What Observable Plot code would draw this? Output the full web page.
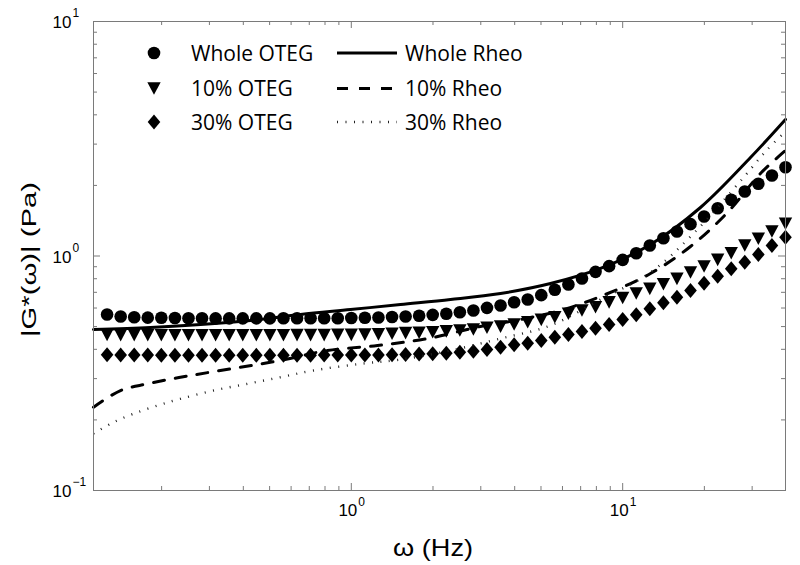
<!DOCTYPE html>
<html>
<head>
<meta charset="utf-8">
<script src="https://cdn.jsdelivr.net/npm/d3@7"></script>
<script src="https://cdn.jsdelivr.net/npm/@observablehq/plot@0.6"></script>
<style>
  html, body { margin: 0; padding: 0; background: #fff; }
  #chart { width: 800px; height: 565px; }
</style>
</head>
<body>
<div id="chart"></div>
<script>
// ---- data ----
const freq = [0.1259,0.1413,0.1585,0.1778,0.1995,0.2239,0.2512,0.2818,0.3162,0.3548,0.3981,0.4467,0.5012,0.5623,0.6310,0.7079,0.7943,0.8913,1.000,1.122,1.259,1.413,1.585,1.778,1.995,2.239,2.512,2.818,3.162,3.548,3.981,4.467,5.012,5.623,6.310,7.079,7.943,8.913,10.00,11.22,12.59,14.13,15.85,17.78,19.95,22.39,25.12,28.18,31.62,35.48,39.81];
const wholeOTEG = [0.563,0.552,0.548,0.546,0.545,0.544,0.543,0.543,0.542,0.542,0.542,0.542,0.542,0.543,0.543,0.543,0.543,0.543,0.544,0.545,0.547,0.549,0.552,0.556,0.561,0.567,0.576,0.586,0.601,0.615,0.635,0.652,0.681,0.718,0.756,0.802,0.856,0.905,0.963,1.028,1.109,1.191,1.272,1.367,1.474,1.599,1.736,1.884,2.032,2.204,2.391];
const oteg10 = [0.461,0.460,0.460,0.459,0.459,0.459,0.459,0.459,0.459,0.459,0.459,0.459,0.459,0.459,0.460,0.460,0.460,0.461,0.461,0.462,0.463,0.466,0.469,0.471,0.473,0.477,0.481,0.486,0.494,0.500,0.510,0.522,0.534,0.548,0.567,0.586,0.605,0.634,0.662,0.692,0.724,0.758,0.799,0.850,0.902,0.963,1.028,1.109,1.184,1.272,1.372];
const oteg30 = [0.379,0.378,0.378,0.378,0.377,0.377,0.377,0.377,0.377,0.377,0.377,0.377,0.377,0.377,0.377,0.377,0.378,0.378,0.378,0.378,0.378,0.379,0.380,0.382,0.383,0.385,0.389,0.392,0.399,0.408,0.418,0.425,0.436,0.450,0.463,0.477,0.492,0.510,0.536,0.561,0.596,0.632,0.667,0.713,0.766,0.820,0.882,0.941,1.015,1.109,1.203];

const wholeRheoFreq = [0.1122,0.1820,0.2782,0.4251,0.6499,0.9933,1.518,2.320,3.546,5.420,8.283,12.66,19.35,29.58,39.80];
const wholeRheo     = [0.486,0.496,0.510,0.531,0.563,0.591,0.621,0.652,0.692,0.763,0.885,1.119,1.610,2.630,3.821];
const rheo10Freq = [0.1122,0.1411,0.1774,0.2556,0.3808,0.5627,0.8172,1.249,1.909,2.993,4.202,5.900,8.283,12.66,17.78,24.33,32.19,39.80];
const rheo10     = [0.2265,0.2669,0.2851,0.3093,0.3337,0.3608,0.3954,0.4152,0.4446,0.5005,0.5361,0.5857,0.6720,0.8422,1.098,1.533,2.248,2.818];
const rheo30Freq = [0.1122,0.1330,0.1576,0.1931,0.2348,0.3107,0.4144,0.5483,0.7255,1.081,1.518,2.320,3.546,5.420,8.283,12.66,18.24,27.87,33.87,39.80];
const rheo30     = [0.175,0.1955,0.2124,0.2304,0.2461,0.2669,0.2851,0.3042,0.3249,0.3469,0.3618,0.3954,0.4446,0.5053,0.6523,0.8504,1.247,2.161,2.818,3.396];

const xMajorTicks = [1, 10];
const xMinorTicks = [0.2,0.3,0.4,0.5,0.6,0.7,0.8,0.9,2,3,4,5,6,7,8,9,20,30];
const yMajorTicks = [0.1, 1, 10];
const yMinorTicks = [0.2,0.3,0.4,0.5,0.6,0.7,0.8,0.9,2,3,4,5,6,7,8,9];
const tickExponents = {"0.1": "\u22121", "1": "0", "10": "1"};

const markerLabels = ["Whole OTEG", "10% OTEG", "30% OTEG"];
const lineLabels = ["Whole Rheo", "10% Rheo", "30% Rheo"];
const xLabel = "\u03C9 (Hz)";
const yLabel = "|G*(\u03C9)| (Pa)";

// ---- custom marker symbols ----
const R0 = 6.3;
const circleSym = { draw(ctx, size) { const r = Math.sqrt(size / Math.PI); ctx.moveTo(r, 0); ctx.arc(0, 0, r, 0, 2 * Math.PI); } };
const triDownSym = { draw(ctx, size) { const r = Math.sqrt(size / Math.PI); const w = r * 1.06, h = r * 1.0;
  ctx.moveTo(-w, -h); ctx.lineTo(w, -h); ctx.lineTo(0, h); ctx.closePath(); } };
const diamondSym = { draw(ctx, size) { const r = Math.sqrt(size / Math.PI); const w = r * 1.0, h = r * 1.19;
  ctx.moveTo(0, -h); ctx.lineTo(w, 0); ctx.lineTo(0, h); ctx.lineTo(-w, 0); ctx.closePath(); } };

const pts = (xs, ys) => xs.map((x, i) => ({x, y: ys[i]}));

const M = {top: 21, right: 15, bottom: 75, left: 93};
const W = 800, H = 565;
const PW = W - M.left - M.right, PH = H - M.top - M.bottom;
const axisGray = "#7a7a7a";
const tickFont = "Liberation Sans, Arial, Helvetica, sans-serif";

const plot = Plot.plot({
  width: W, height: H,
  marginTop: M.top, marginRight: M.right, marginBottom: M.bottom, marginLeft: M.left,
  x: {type: "log", domain: [0.1122, 39.81], axis: null},
  y: {type: "log", domain: [0.1, 10], axis: null},
  style: {fontFamily: tickFont, background: "white", color: "black", overflow: "visible"},
  marks: [
    Plot.dot(pts(freq, wholeOTEG), {x: "x", y: "y", r: R0, symbol: circleSym, fill: "black", stroke: "none"}),
    Plot.dot(pts(freq, oteg10), {x: "x", y: "y", r: R0, symbol: triDownSym, fill: "black", stroke: "none"}),
    Plot.dot(pts(freq, oteg30), {x: "x", y: "y", r: R0, symbol: diamondSym, fill: "black", stroke: "none"}),
    Plot.line(pts(wholeRheoFreq, wholeRheo), {x: "x", y: "y", stroke: "black", strokeWidth: 3, curve: "catmull-rom"}),
    Plot.line(pts(rheo10Freq, rheo10), {x: "x", y: "y", stroke: "black", strokeWidth: 3, strokeDasharray: "11,11", curve: "catmull-rom"}),
    Plot.line(pts(rheo30Freq, rheo30), {x: "x", y: "y", stroke: "#222", strokeWidth: 2.4, strokeDasharray: "1,7.5", strokeLinecap: "butt", curve: "catmull-rom"}),
    // inward ticks, all four sides
    Plot.ruleX(xMajorTicks, {x: d => d, insetTop: PH - 7, stroke: axisGray}),
    Plot.ruleX(xMajorTicks, {x: d => d, insetBottom: PH - 7, stroke: axisGray}),
    Plot.ruleX(xMinorTicks, {x: d => d, insetTop: PH - 4, stroke: axisGray}),
    Plot.ruleX(xMinorTicks, {x: d => d, insetBottom: PH - 4, stroke: axisGray}),
    Plot.ruleY(yMajorTicks, {y: d => d, insetRight: PW - 7, stroke: axisGray}),
    Plot.ruleY(yMajorTicks, {y: d => d, insetLeft: PW - 7, stroke: axisGray}),
    Plot.ruleY(yMinorTicks, {y: d => d, insetRight: PW - 4, stroke: axisGray}),
    Plot.ruleY(yMinorTicks, {y: d => d, insetLeft: PW - 4, stroke: axisGray}),
    Plot.frame({stroke: axisGray, strokeWidth: 1}),
    // tick labels: base "10" and exponent
    Plot.text(xMajorTicks, {x: d => d, frameAnchor: "bottom", text: () => "10", textAnchor: "end", dx: 6, dy: 25, fontSize: 17, fill: "black"}),
    Plot.text(xMajorTicks, {x: d => d, frameAnchor: "bottom", text: d => tickExponents[String(d)], textAnchor: "start", dx: 7, dy: 15, fontSize: 12, fill: "black"}),
    Plot.text(yMajorTicks, {y: d => d, frameAnchor: "left", text: () => "10", textAnchor: "start", dx: -41, dy: 1.5, fontSize: 17, fill: "black"}),
    Plot.text(yMajorTicks, {y: d => d, frameAnchor: "left", text: d => tickExponents[String(d)], textAnchor: "start", dx: -21, dy: -8, fontSize: 12, fill: "black"})
  ]
});

document.getElementById("chart").appendChild(plot);

// ---- axis labels and legend (drawn into the same SVG) ----
const svg = d3.select(plot);
svg.append("text")
  .attr("x", 433).attr("y", 556)
  .attr("text-anchor", "middle")
  .attr("font-family", tickFont).attr("font-size", 24)
  .attr("textLength", 80).attr("lengthAdjust", "spacingAndGlyphs")
  .attr("fill", "black")
  .text(xLabel);
svg.append("text")
  .attr("transform", "translate(36,259.5) rotate(-90)")
  .attr("text-anchor", "middle")
  .attr("font-family", tickFont).attr("font-size", 21)
  .attr("textLength", 155).attr("lengthAdjust", "spacingAndGlyphs")
  .attr("fill", "black")
  .text(yLabel);

const legendRows = [53, 88.5, 122];
const legendSyms = [circleSym, triDownSym, diamondSym];
const legendStyles = [
  {w: 3, dash: null, color: "black"},
  {w: 3, dash: "11,11", color: "black"},
  {w: 2.4, dash: "1,7.5", color: "#222"}
];
const lg = svg.append("g")
  .attr("font-family", "'Open Sans', 'Noto Sans', sans-serif")
  .attr("font-size", 21)
  .attr("text-anchor", "start")
  .attr("fill", "black");
legendRows.forEach((ry, i) => {
  lg.append("path")
    .attr("transform", `translate(154,${ry})`)
    .attr("d", d3.symbol(legendSyms[i], Math.PI * R0 * R0)());
  lg.append("text").attr("x", 191).attr("y", ry + 7.5).attr("text-anchor", "start").text(markerLabels[i]);
  const st = legendStyles[i];
  const ln = lg.append("line")
    .attr("x1", 337).attr("x2", 397).attr("y1", ry).attr("y2", ry)
    .attr("stroke", st.color).attr("stroke-width", st.w);
  if (st.dash) ln.attr("stroke-dasharray", st.dash);
  lg.append("text").attr("x", 405).attr("y", ry + 7.5).attr("text-anchor", "start").text(lineLabels[i]);
});
</script>
</body>
</html>
